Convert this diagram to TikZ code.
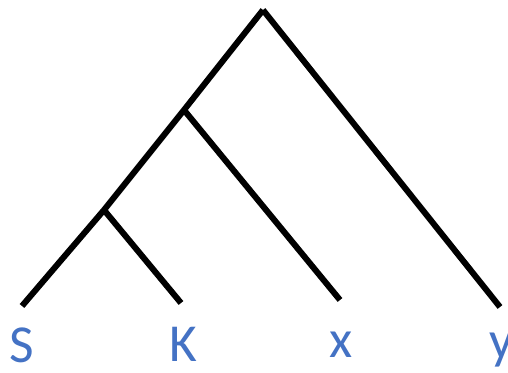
\documentclass[tikz,border=0pt]{standalone}
\usepackage{fontspec}
\setmainfont{Carlito}
\usepackage{xcolor}
\usetikzlibrary{positioning}
\definecolor{leafblue}{RGB}{68,114,196}

\begin{document}
\begin{tikzpicture}[x=0.025cm,y=-0.025cm,
  br/.style={line width=4.3pt,line cap=butt},
  lbl/.style={text=leafblue,font=\fontsize{38}{40}\selectfont,inner sep=0pt}]
\useasboundingbox (0,0) rectangle (508,373);
\coordinate (root) at (263,10);
\coordinate (skx) at (184,110);
\coordinate (sk) at (104,210);
\coordinate (ls) at (22,306);
\coordinate (lk) at (181,303);
\coordinate (lx) at (340,300);
\coordinate (ly) at (500,307);
\node[lbl] (s) at (22,345) {S};
\node[lbl] (k) at (183,344) {K};
\node[lbl] (x) at (341,345) {x};
\node[lbl] (y) at (502,350) {y};
\draw[br] (root) -- (skx) -- (sk) -- (ls);
\draw[br] (sk) -- (lk);
\draw[br] (skx) -- (lx);
\draw[br] (root) -- (ly);
\end{tikzpicture}
\end{document}
